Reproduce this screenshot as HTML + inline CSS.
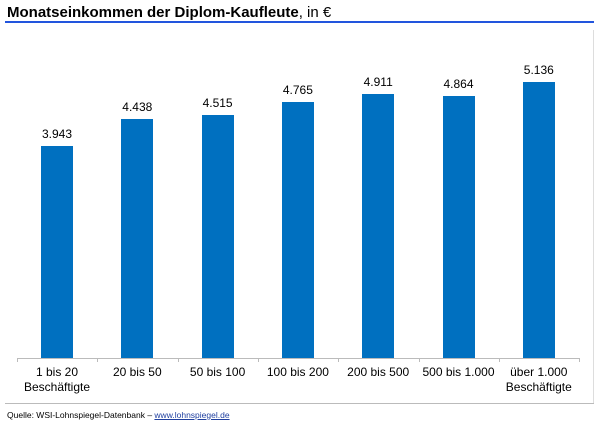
<!DOCTYPE html>
<html><head><meta charset="utf-8"><style>
body{margin:0;width:600px;height:429px;background:#fff;font-family:"Liberation Sans",sans-serif;position:relative;overflow:hidden}
.t{position:absolute;left:7px;top:4px;font-size:15px;font-weight:bold;color:#000}
.t span{font-weight:normal}
.ul{position:absolute;left:5px;top:21px;width:589px;height:2px;background:#2255dd}
.bar{position:absolute;width:32px;background:#0070c0}
.v{position:absolute;width:80px;text-align:center;font-size:12px;color:#000}
.c{position:absolute;width:80px;text-align:center;font-size:12px;line-height:15px;top:365px;color:#000}
.src{position:absolute;left:7px;top:410px;font-size:8.5px}
.src u{color:#1f3f9f}
</style></head><body>
<div class="t">Monatseinkommen der Diplom-Kaufleute<span>, in €</span></div>
<div class="ul"></div>
<div style="position:absolute;left:17px;top:358px;width:562px;height:1px;background:#bbb"></div>
<div style="position:absolute;left:5px;top:403px;width:589px;height:1px;background:#bbb"></div>
<div style="position:absolute;left:593px;top:30px;width:1px;height:373px;background:#ddd"></div>
<div id="c"></div>
<div class="src">Quelle: WSI-Lohnspiegel-Datenbank – <u>www.lohnspiegel.de</u></div>
<script>
(function(){
var v=[3943,4438,4515,4765,4911,4864,5136],l=["1 bis 20<br>Beschäftigte","20 bis 50","50 bis 100","100 bis 200","200 bis 500","500 bis 1.000","über 1.000<br>Beschäftigte"],h="";
for(var i=0;i<7;i++){var x=41+i*80.3,tp=358-v[i]*0.05377;
h+='<div class="bar" style="left:'+x+'px;top:'+tp+'px;height:'+(358-tp)+'px"></div>';
h+='<div class="v" style="left:'+(x-24)+'px;top:'+(tp-19)+'px">'+(v[i]/1000).toFixed(3)+'</div>';
h+='<div class="c" style="left:'+(x-24)+'px">'+l[i]+'</div>';
h+='<div style="position:absolute;left:'+(17+i*80.3)+'px;top:358px;width:1px;height:4px;background:#bbb"></div>';}
h+='<div style="position:absolute;left:579px;top:358px;width:1px;height:4px;background:#bbb"></div>';
document.getElementById('c').innerHTML=h;
})();
</script>
</body></html>
